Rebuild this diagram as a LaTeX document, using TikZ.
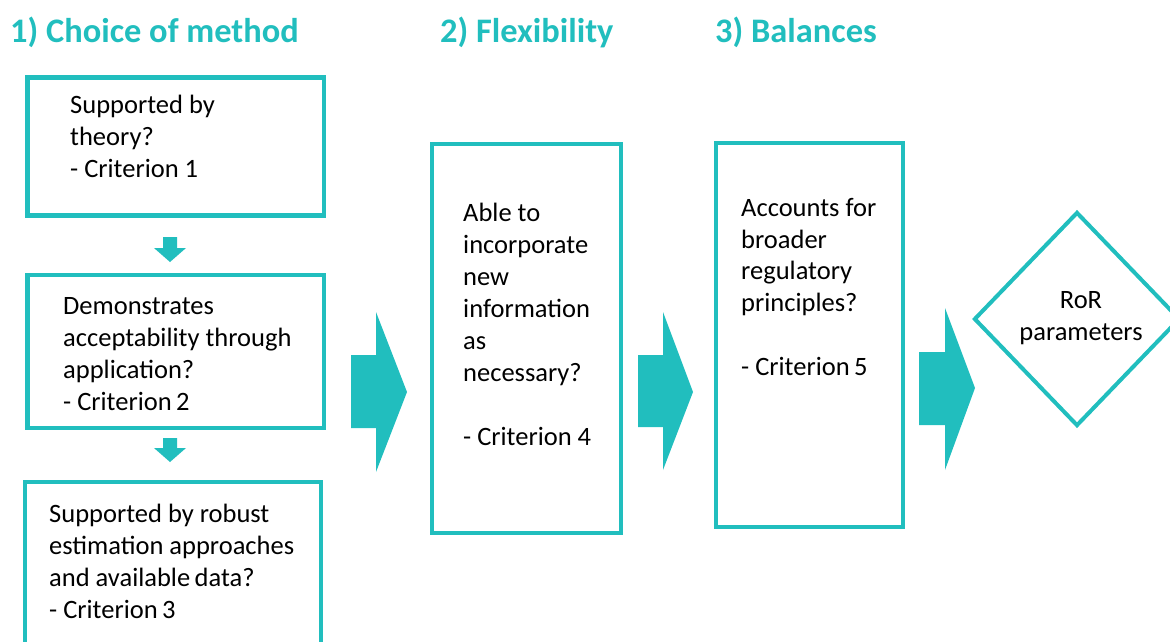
\documentclass[tikz,border=0pt]{standalone}
\usepackage{fontspec}
\setmainfont{Carlito}
\usetikzlibrary{shapes.geometric}
\definecolor{teal}{RGB}{33,190,190}
% body text nodes are anchored at the baseline of their last line
\tikzset{
  box/.style={draw=teal, line width=4.5pt},
  body/.style={anchor=base west, inner sep=0pt, align=left,
    font=\fontsize{26.5}{31.7}\selectfont},
  head/.style={anchor=base west, inner sep=0pt, text=teal,
    font=\fontsize{34.4}{40}\selectfont\bfseries},
  blockarrow/.style={fill=teal, draw=none},
}
\begin{document}
\begin{tikzpicture}[x=1pt,y=-1pt]
\useasboundingbox (0,0) rectangle (1170,641);
\clip (0,0) rectangle (1170,641);

% column headings
\node[head] (h1) at (10,42) {1) Choice of method};
\node[head] (h2) at (440,42) {2) Flexibility};
\node[head] (h3) at (715,42) {3) Balances};

% column 1: three stacked criteria
\draw[box] (27.5,77.5) rectangle (324,215.5);
\node[body] (t1) at (70,177) {Supported by\\theory?\\- Criterion 1};
\draw[box] (27.5,275) rectangle (324,428);
\node[body] (t2) at (63,410) {Demonstrates\\acceptability through\\application?\\- Criterion\,2};
\draw[box] (25,482) rectangle (321,700);
\node[body] (t3) at (49,618) {Supported by robust\\estimation approaches\\and available\,data?\\- Criterion\,3};

% small downward arrows between the stacked boxes
\coordinate (d1) at (170,237);
\fill[teal] (d1) ++(-7,0) -- ++(14,0) -- ++(0,11) -- ++(9,0) -- (170,262) -- (154,248) -- (163,248) -- cycle;
\coordinate (d2) at (170,438);
\fill[teal] (d2) ++(-7,0) -- ++(14,0) -- ++(0,10) -- ++(9,0) -- (170,462) -- (154,448) -- (163,448) -- cycle;

% column 2
\draw[box] (432,144) rectangle (621,533);
\node[body, font=\fontsize{26.5}{31.9}\selectfont] (t4) at (463,445)
  {Able to\\incorporate\\new\\information\\as\\necessary?\\[31.9pt]- Criterion 4};

% column 3
\draw[box] (716,143) rectangle (903,527);
\node[body] (t5) at (741,375) {Accounts for\\broader\\regulatory\\principles?\\[31.7pt]- Criterion\,5};

% result
\node[diamond, draw=teal, line width=4pt, minimum width=206pt, minimum height=214pt,
  inner sep=0pt] (ror) at (1077,319) {};
\node[anchor=base, inner sep=0pt, align=center, font=\fontsize{26.5}{32}\selectfont]
  (rt) at (1081,340) {RoR\\parameters};

% block arrows between the columns
\fill[blockarrow] (351,355) -- (376,355) -- (376,312) -- (407,392) -- (376,472) -- (376,428) -- (351,428) -- cycle;
\fill[blockarrow] (638,355) -- (663,355) -- (663,312) -- (693,392) -- (663,470) -- (663,427) -- (638,427) -- cycle;
\fill[blockarrow] (919,352) -- (945,352) -- (945,308) -- (975,388) -- (945,470) -- (945,425) -- (919,425) -- cycle;
\end{tikzpicture}
\end{document}
